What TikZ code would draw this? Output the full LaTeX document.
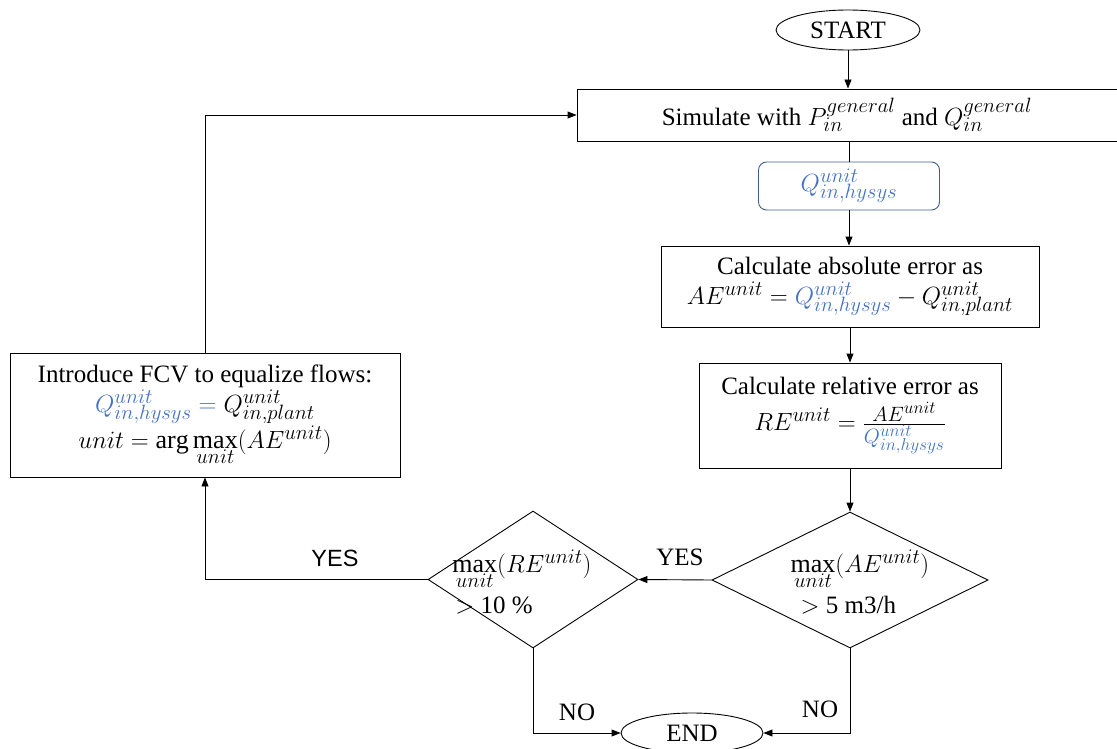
\documentclass[tikz,border=0pt]{standalone}
\usepackage{fontspec}
\setmainfont{Liberation Serif}
\newfontfamily\arialfont{Liberation Sans}
\DeclareMathSizes{25}{26}{20.5}{16}
\usetikzlibrary{shapes.geometric,arrows.meta}
\definecolor{qblue}{RGB}{68,114,196}
\definecolor{qborder}{RGB}{65,95,140}
\begin{document}
\begin{tikzpicture}[x=1pt,y=-1pt,
  font=\fontsize{25}{29}\selectfont,
  line width=0.9pt,
  box/.style={draw, line width=0.9pt, inner sep=0pt, align=center},
  oval/.style={draw, ellipse, line width=0.9pt, inner sep=0pt},
  dia/.style={draw, diamond, line width=0.9pt, inner sep=0pt},
  arr/.style={-{Triangle[length=9pt,width=7pt]}, line width=0.9pt},
  plain/.style={line width=0.9pt},
  lbl/.style={inner sep=0pt},
  sanslbl/.style={inner sep=0pt, font=\arialfont\fontsize{23.5}{27}\selectfont}]
\useasboundingbox (0,0) rectangle (1117,749);

% nodes
\node[oval, minimum width=144pt, minimum height=40pt] (start) at (848,30) {START};
\node[box, minimum width=540pt, minimum height=52pt] (sim) at (847,115)
  {Simulate with $P^{general}_{in}$ and $Q^{general}_{in}$};
\node[box, draw=qborder, rounded corners=8pt, minimum width=181pt, minimum height=48pt,
  text=qblue] (q) at (849,186) {$Q^{unit}_{in,hysys}$};
\node[box, minimum width=378pt, minimum height=81pt] (ae) at (850,286.5)
  {Calculate absolute error as\\[1pt]
   $AE^{unit} = \color{qblue}Q^{unit}_{in,hysys}\color{black} - Q^{unit}_{in,plant}$};
\node[box, minimum width=302pt, minimum height=105pt] (re) at (850,415.5)
  {Calculate relative error as\\[7pt]
   $RE^{unit} = \frac{AE^{unit}}{\color{qblue}Q^{unit}_{in,hysys}}$};
\node[box, minimum width=390pt, minimum height=124pt] (fcv) at (205,415)
  {Introduce FCV to equalize flows:\\[1pt]
   $\color{qblue}Q^{unit}_{in,hysys} = \color{black}Q^{unit}_{in,plant}$\\[1pt]
   $unit = \arg\max\limits_{unit}\bigl(AE^{unit}\bigr)$};
\node[dia, minimum width=276pt, minimum height=136pt] (d1) at (850,580) {};
\node[lbl, align=left] (d1t) at (860,582)
  {$\max\limits_{unit}\bigl(AE^{unit}\bigr)$\\[7pt]\hspace{10pt}$>$ 5 m3/h};
\node[dia, minimum width=210pt, minimum height=137pt] (d2) at (533,579.5) {};
\node[lbl, align=left] (d2t) at (522,582)
  {$\max\limits_{unit}\bigl(RE^{unit}\bigr)$\\[7pt]\hspace{3pt}$>$ 10 \%};
\node[oval, minimum width=142pt, minimum height=40pt] (end) at (692,733) {END};

% connectors
\draw[arr] (start.south) -- (start.south |- sim.north);
\draw[plain] (q.north |- sim.south) -- (q.north);
\draw[arr] (q.south) -- (q.south |- ae.north);
\draw[arr] (ae.south) -- (re.north);
\draw[arr] (re.south) -- (d1.north);
\draw[arr] (d1.west) -- (d2.east) node[lbl, midway, above=14pt, xshift=5pt] {YES};
\draw[arr] (d2.west) -| (fcv.south);
\node[sanslbl] (yes2) at (335,558) {YES};
\draw[arr] (fcv.north) |- (sim.west);
\draw[arr] (d2.south) |- (end.west);
\node[lbl] (no1) at (577,712) {NO};
\draw[arr] (d1.south) |- (end.east);
\node[lbl] (no2) at (820,709) {NO};
\end{tikzpicture}
\end{document}
